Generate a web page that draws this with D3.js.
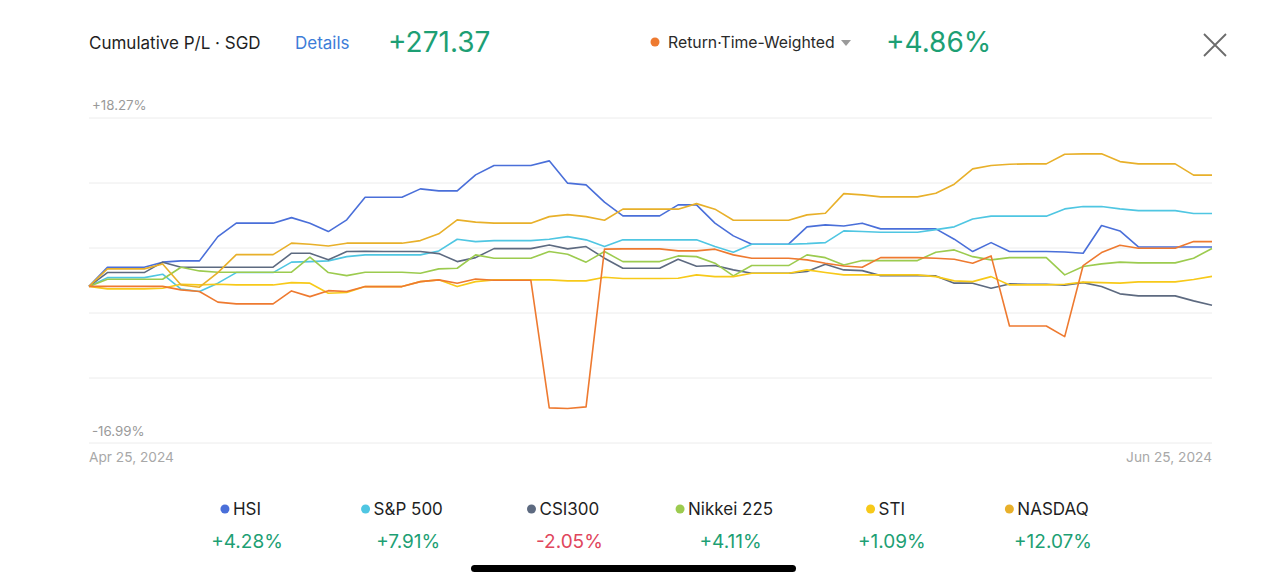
<!DOCTYPE html>
<html>
<head>
<meta charset="utf-8">
<script src="https://cdn.jsdelivr.net/npm/d3@7"></script>
<style>
	body { margin: 0; background: #fff; }
	svg { display: block; font-family: Inter, "Noto Sans", sans-serif; }
	.grid line { stroke: #ececec; stroke-width: 1; }
	.series { fill: none; stroke-width: 1.6; stroke-linejoin: round; }
</style>
</head>
<body>
<svg id="pl-plot" width="1266" height="585" viewBox="0 0 1266 585"></svg>
<script>

// daily points, Apr 25 2024 .. Jun 25 2024 (cumulative return, %)
const START_DATE = new Date(2024, 3, 25);
const END_DATE = new Date(2024, 5, 25);

const HSI = [0, 2.08, 2.08, 2.08, 2.63, 2.77, 2.77, 5.40, 6.86, 6.86,
	6.86, 7.46, 6.86, 5.95, 7.22, 9.68, 9.68, 9.68, 10.58, 10.36,
	10.36, 12.10, 13.11, 13.11, 13.11, 13.62, 11.20, 11.01, 9.14, 7.65,
	7.65, 7.65, 8.84, 8.84, 6.86, 5.48, 4.58, 4.58, 4.58, 6.46,
	6.67, 6.56, 6.86, 6.24, 6.24, 6.24, 6.24, 5.12, 3.78, 4.75,
	3.78, 3.78, 3.78, 3.74, 3.60, 6.60, 6.02, 4.28, 4.28, 4.28,
	4.28, 4.28];

const SP500 = [0, 0.95, 0.95, 0.95, 1.32, -0.30, -0.56, 0.35, 1.50, 1.50,
	1.50, 2.63, 2.69, 2.77, 3.23, 3.42, 3.42, 3.42, 3.42, 3.85,
	5.12, 4.86, 4.97, 4.97, 4.97, 5.12, 5.40, 5.05, 4.32, 5.05,
	5.05, 5.05, 5.05, 5.05, 4.32, 3.71, 4.58, 4.58, 4.58, 4.64,
	4.75, 6.02, 5.95, 5.88, 5.88, 5.88, 6.16, 6.46, 7.32, 7.62,
	7.62, 7.62, 7.62, 8.41, 8.66, 8.66, 8.41, 8.22, 8.22, 8.22,
	7.91, 7.91];

const CSI300 = [0, 1.50, 1.50, 1.50, 2.63, 2.08, 2.08, 2.08, 2.08, 2.08,
	2.08, 3.60, 3.60, 2.88, 3.78, 3.82, 3.78, 3.78, 3.78, 3.56,
	2.69, 3.12, 4.10, 4.10, 4.10, 4.50, 4.07, 4.32, 3.06, 1.97,
	1.97, 1.97, 2.95, 2.19, 2.26, 1.79, 1.43, 1.43, 1.43, 1.61,
	2.41, 1.79, 1.71, 1.17, 1.17, 1.17, 1.14, 0.35, 0.35, -0.20,
	0.27, 0.24, 0.24, 0.13, 0.41, -0.02, -0.81, -1.03, -1.03, -1.03,
	-1.57, -2.05];

const NIKKEI = [0, 0.78, 0.78, 0.78, 0.78, 2.08, 1.68, 1.54, 1.54, 1.54,
	1.54, 1.54, 3.17, 1.50, 1.17, 1.54, 1.54, 1.54, 1.43, 1.90,
	1.97, 3.42, 3.06, 3.06, 3.06, 3.78, 3.49, 2.63, 3.78, 2.69,
	2.69, 2.69, 3.31, 3.23, 2.52, 1.14, 2.26, 2.26, 2.26, 3.42,
	3.12, 2.33, 2.80, 2.80, 2.80, 2.80, 3.71, 3.96, 3.23, 2.88,
	3.12, 3.12, 3.12, 1.25, 2.15, 2.44, 2.63, 2.55, 2.55, 2.55,
	3.06, 4.11];

const STI = [0, -0.27, -0.27, -0.27, -0.20, 0.24, 0.16, 0.24, 0.16, 0.16,
	0.16, 0.41, 0.35, -0.74, -0.67, -0.02, -0.02, -0.02, 0.52, 0.71,
	-0.02, 0.52, 0.71, 0.71, 0.71, 0.71, 0.60, 0.60, 1.00, 0.85,
	0.85, 0.85, 0.89, 1.25, 1.06, 1.06, 1.43, 1.43, 1.43, 1.79,
	1.50, 1.25, 1.25, 1.25, 1.25, 1.25, 1.06, 0.60, 0.52, 1.06,
	0.16, 0.16, 0.16, 0.24, 0.46, 0.41, 0.35, 0.49, 0.49, 0.49,
	0.74, 1.09];

const NASDAQ = [0, 1.90, 1.90, 1.90, 2.44, 0.16, -0.09, 1.50, 3.45, 3.45,
	3.45, 4.69, 4.58, 4.39, 4.69, 4.69, 4.69, 4.69, 4.97, 5.70,
	7.22, 6.97, 6.86, 6.86, 6.86, 7.57, 7.79, 7.57, 7.18, 8.38,
	8.38, 8.38, 8.38, 8.98, 8.38, 7.18, 7.18, 7.18, 7.18, 7.76,
	7.94, 10.07, 9.93, 9.71, 9.71, 9.71, 10.11, 11.09, 12.75, 13.11,
	13.26, 13.29, 13.29, 14.34, 14.38, 14.38, 13.54, 13.29, 13.29, 13.29,
	12.07, 12.07];

// portfolio, time-weighted return
const TWR = [0, 0, 0, 0, 0, -0.38, -0.56, -1.71, -1.90, -1.90,
	-1.90, -0.49, -1.11, -0.46, -0.56, -0.02, -0.02, -0.02, 0.52, 0.71,
	0.35, 0.81, 0.67, 0.67, 0.67, -13.18, -13.24, -13.07, 4.04, 4.07,
	4.07, 4.07, 3.85, 3.85, 4.04, 3.42, 3.06, 3.06, 3.06, 2.88,
	2.52, 2.22, 2.08, 3.12, 3.12, 3.12, 3.06, 2.95, 2.52, 3.31,
	-4.29, -4.29, -4.29, -5.45, 2.26, 3.67, 4.47, 4.14, 4.14, 4.14,
	4.86, 4.86];

const SERIES_NAMES = ['HSI', 'S&P 500', 'CSI300', 'Nikkei 225', 'STI', 'NASDAQ'];
const SERIES_VALUES = [HSI, SP500, CSI300, NIKKEI, STI, NASDAQ];
const SERIES_COLORS = ['#4a6fd9', '#4fc6e2', '#5d6a80', '#9ccb4f', '#f7c919', '#e8b02a'];
const SERIES_TOTALS = ['+4.28%', '+7.91%', '-2.05%', '+4.11%', '+1.09%', '+12.07%'];
const TWR_COLOR = '#ee7a30';

const Y_MIN = -16.99;
const Y_MAX = 18.27;

const GREEN = '#1d9f74';
const RED = '#e0465c';

class PLPlot {
	constructor(svg_element_id) {
		this.svg = d3.select('#' + svg_element_id);

		const dates = d3.timeDay.range(START_DATE, d3.timeDay.offset(END_DATE, 1));

		const x = d3.scaleTime()
			.domain([START_DATE, END_DATE])
			.range([89, 1212]);

		const y = d3.scaleLinear()
			.domain([Y_MIN, Y_MAX])
			.range([443, 118]);

		// header
		const head = this.svg.append('g');
		head.append('text').attr('x', 89).attr('y', 49)
			.attr('font-size', 17).attr('fill', '#1f1f1f')
			.text('Cumulative P/L · SGD');
		head.append('text').attr('x', 295).attr('y', 49)
			.attr('font-size', 17).attr('fill', '#3d7dd8')
			.text('Details');
		head.append('text').attr('x', 388).attr('y', 52)
			.attr('font-size', 28).attr('fill', GREEN)
			.text('+271.37');
		head.append('circle').attr('cx', 655).attr('cy', 42).attr('r', 4.5)
			.attr('fill', TWR_COLOR);
		head.append('text').attr('x', 668).attr('y', 48)
			.attr('font-size', 15.8).attr('fill', '#2a2a2a')
			.text('Return·Time-Weighted');
		head.append('path').attr('d', 'M841,40 L851,40 L846,46 Z')
			.attr('fill', '#9a9a9a');
		head.append('text').attr('x', 886).attr('y', 52)
			.attr('font-size', 28).attr('fill', GREEN)
			.text('+4.86%');
		head.append('path').attr('d', 'M1204,34 L1226,56 M1226,34 L1204,56')
			.attr('stroke', '#6b6b6b').attr('stroke-width', 1.8);

		// grid
		const grid_values = d3.range(6).map(i => Y_MIN + i * (Y_MAX - Y_MIN) / 5);
		this.svg.append('g').classed('grid', true)
			.selectAll('line')
			.data(grid_values)
			.enter()
			.append('line')
				.attr('x1', 89).attr('x2', 1212)
				.attr('y1', d => y(d)).attr('y2', d => y(d));

		const ylab = this.svg.append('g')
			.attr('font-size', 13.3).attr('fill', '#9a9a9a');
		ylab.append('text').attr('x', 92).attr('y', y(Y_MAX) - 8).text('+' + Y_MAX.toFixed(2) + '%');
		ylab.append('text').attr('x', 92).attr('y', y(Y_MIN) - 7).text(Y_MIN.toFixed(2) + '%');

		const fmt = d3.timeFormat('%b %d, %Y');
		const xlab = this.svg.append('g')
			.attr('font-size', 13.7).attr('fill', '#a8a8a8');
		xlab.append('text').attr('x', x(START_DATE)).attr('y', 462).text(fmt(START_DATE));
		xlab.append('text').attr('x', x(END_DATE)).attr('y', 462)
			.attr('text-anchor', 'end').text(fmt(END_DATE));

		// lines
		const line = d3.line()
			.x((d, i) => x(dates[i]))
			.y(d => y(d));

		const lines = this.svg.append('g');
		lines.selectAll('.series')
			.data(SERIES_VALUES)
			.enter()
			.append('path')
				.classed('series', true)
				.attr('stroke', (d, i) => SERIES_COLORS[i])
				.attr('d', line);
		lines.append('path')
			.classed('series', true)
			.attr('stroke', TWR_COLOR)
			.attr('d', line(TWR));

		// legend, one column per index
		const legend = this.svg.append('g');
		SERIES_NAMES.forEach((name, i) => {
			const cx = 247 + i * 161.2;
			const item = legend.append('g');
			const label = item.append('text')
				.attr('y', 515).attr('font-size', 17).attr('fill', '#1f1f1f')
				.text(name);
			const w = label.node().getComputedTextLength();
			const left = cx - 6 - (w + 12) / 2;
			item.append('circle')
				.attr('cx', left + 4).attr('cy', 509).attr('r', 4.5)
				.attr('fill', SERIES_COLORS[i]);
			label.attr('x', left + 12);
			item.append('text')
				.attr('x', cx).attr('y', 548)
				.attr('text-anchor', 'middle')
				.attr('font-size', 19)
				.attr('fill', SERIES_TOTALS[i][0] === '-' ? RED : GREEN)
				.text(SERIES_TOTALS[i]);
		});

		// phone home indicator
		this.svg.append('rect')
			.attr('x', 471).attr('y', 565).attr('width', 325).attr('height', 7)
			.attr('rx', 3.5).attr('fill', '#000');
	}
}

function whenDocumentLoaded(action) {
	if (document.readyState === "loading") {
		document.addEventListener("DOMContentLoaded", action);
	} else {
		action();
	}
}

whenDocumentLoaded(() => {
	plot_object = new PLPlot('pl-plot');
});
</script>
</body>
</html>
